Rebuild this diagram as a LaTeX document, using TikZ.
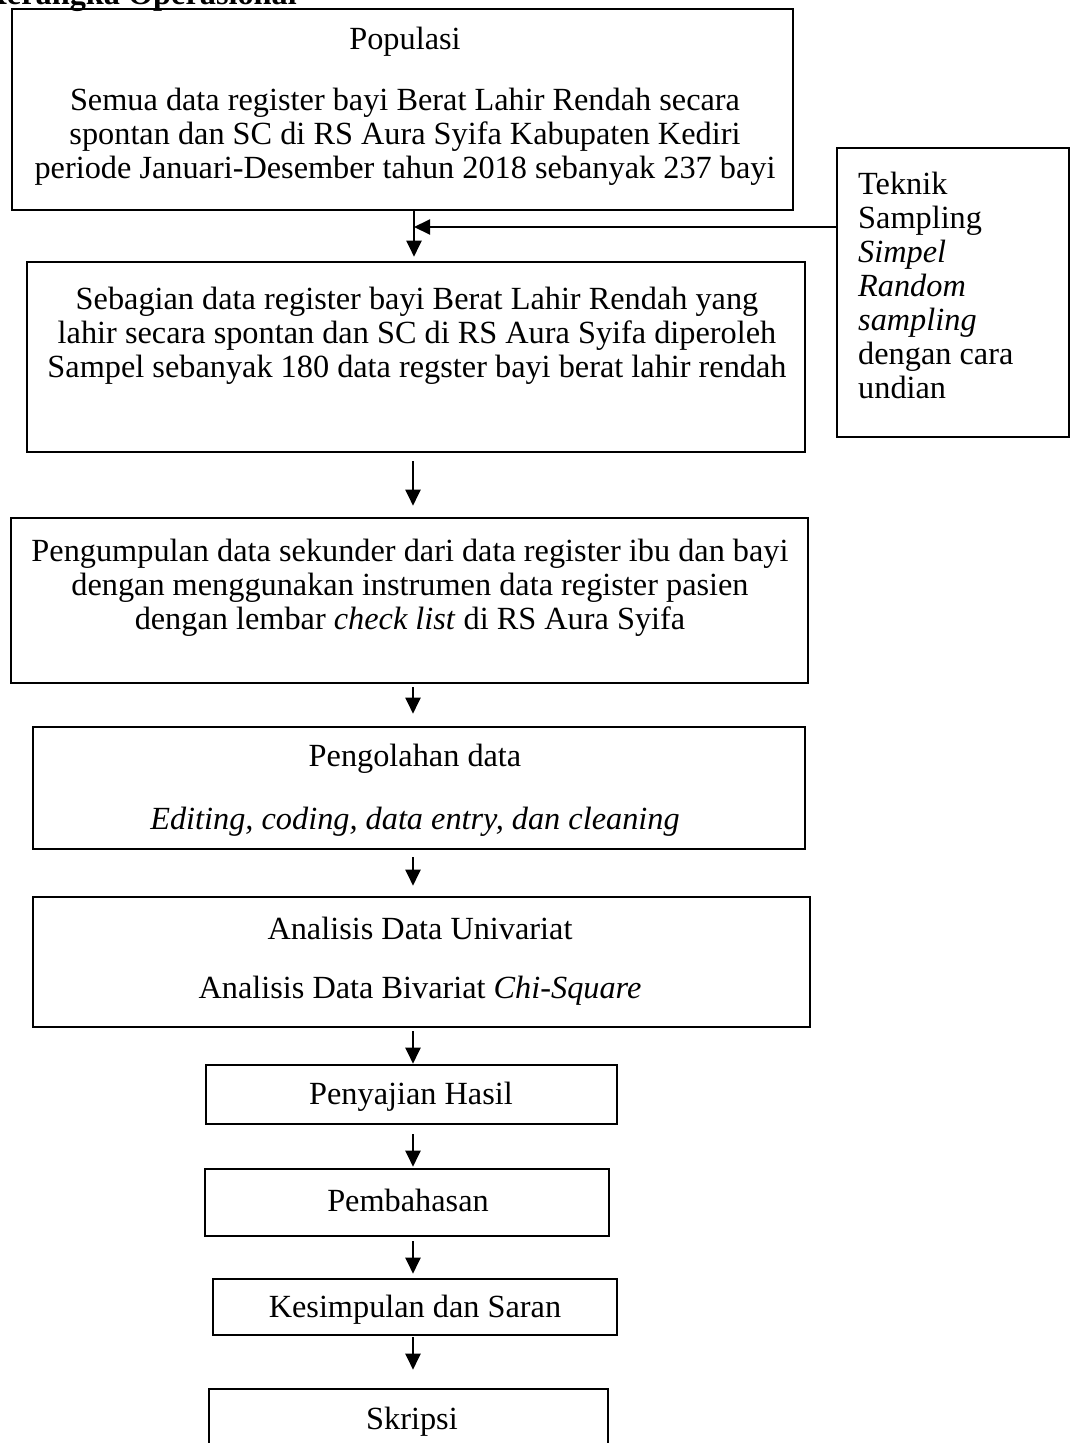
\documentclass[tikz,border=0pt]{standalone}
\usepackage{fontspec}
\setmainfont{Liberation Serif}
\usepackage{tikz}
\usetikzlibrary{arrows.meta, positioning, calc}

\begin{document}
\begin{tikzpicture}[
        x=1pt, y=-1pt,
        box/.style={rectangle, draw, line width=2.6pt, inner sep=0pt},
        txt/.style={align=center, inner sep=0pt, font=\fontsize{32.3}{34}\selectfont},
        arr/.style={-{Triangle[length=16pt, width=15pt]}, line width=2pt}
    ]
        \useasboundingbox (0,0) rectangle (1075,1443);
        \clip (0,0) rectangle (1075,1443);

        % Title (cut off by the page edge)
        \node[anchor=base east, inner sep=0pt, font=\fontsize{32.3}{34}\selectfont\bfseries] (title) at (297,4) {Kerangka Operasional};

        % Boxes
        \node[box, minimum width=781pt, minimum height=201pt] (populasi) at (402.5,109.5) {};
        \node[box, minimum width=778pt, minimum height=190pt] (sampel) at (416,357) {};
        \node[box, minimum width=232pt, minimum height=289pt] (teknik) at (953,292.5) {};
        \node[box, minimum width=797pt, minimum height=165pt] (kumpul) at (409.5,600.5) {};
        \node[box, minimum width=772pt, minimum height=122pt] (olah) at (419,788) {};
        \node[box, minimum width=777pt, minimum height=130pt] (analisis) at (421.5,962) {};
        \node[box, minimum width=411pt, minimum height=59pt] (hasil) at (411.5,1094.5) {};
        \node[box, minimum width=404pt, minimum height=67pt] (bahas) at (407,1202.5) {};
        \node[box, minimum width=404pt, minimum height=56pt] (simpul) at (415,1307) {};
        \node[box, minimum width=399pt, minimum height=111pt] (skripsi) at (408.5,1444.5) {};

        % Texts
        \node[txt] (populasit) at (405,42) {Populasi};
        \node[txt] (populasid) at (405,137) {Semua data register bayi Berat Lahir Rendah secara\\spontan dan SC di RS Aura Syifa Kabupaten Kediri\\periode Januari-Desember tahun 2018 sebanyak 237 bayi};
        \node[txt] (sampelt) at (417,336) {Sebagian data register bayi Berat Lahir Rendah yang\\lahir secara spontan dan SC di RS Aura Syifa diperoleh\\Sampel sebanyak 180 data regster bayi berat lahir rendah};
        \node[txt, align=left, anchor=north west] (teknikt) at (858,172) {Teknik\\Sampling\\\textit{Simpel}\\\textit{Random}\\\textit{sampling}\\dengan cara\\undian};
        \node[txt] (kumpult) at (410,588) {Pengumpulan data sekunder dari data register ibu dan bayi\\dengan menggunakan instrumen data register pasien\\dengan lembar \textit{check list} di RS Aura Syifa};
        \node[txt] (olaht) at (415,759) {Pengolahan data};
        \node[txt] (olahd) at (415,822) {\textit{Editing, coding, data entry, dan cleaning}};
        \node[txt] (analisist) at (420,928) {Analisis Data Univariat};
        \node[txt] (analisisd) at (420,991) {Analisis Data Bivariat \textit{Chi-Square}};
        \node[txt] (hasilt) at (411,1097) {Penyajian Hasil};
        \node[txt] (bahast) at (408,1200) {Pembahasan};
        \node[txt] (simpult) at (415,1310) {Kesimpulan dan Saran};
        \node[txt] (skripsit) at (412,1422) {Skripsi};

        % Flow
        \coordinate (axis) at (413,0);
        \coordinate (join) at (414,227);
        \draw[arr, shorten >=4pt] (populasi.south -| join) -- (sampel.north -| join);
        \draw[arr] (teknik.west |- join) -- (join);
        \draw[arr, shorten <=8pt, shorten >=11pt] (sampel.south -| axis) -- (kumpul.north -| axis);
        \draw[arr, shorten <=3pt, shorten >=12pt] (kumpul.south -| axis) -- (olah.north -| axis);
        \draw[arr, shorten <=7pt, shorten >=10pt] (olah.south -| axis) -- (analisis.north -| axis);
        \draw[arr, shorten <=3pt] (analisis.south -| axis) -- (hasil.north -| axis);
        \draw[arr, shorten <=9pt, shorten >=1pt] (hasil.south -| axis) -- (bahas.north -| axis);
        \draw[arr, shorten <=4pt, shorten >=4pt] (bahas.south -| axis) -- (simpul.north -| axis);
        \draw[arr, shorten <=1pt, shorten >=18pt] (simpul.south -| axis) -- (skripsi.north -| axis);

    \end{tikzpicture}
\end{document}
